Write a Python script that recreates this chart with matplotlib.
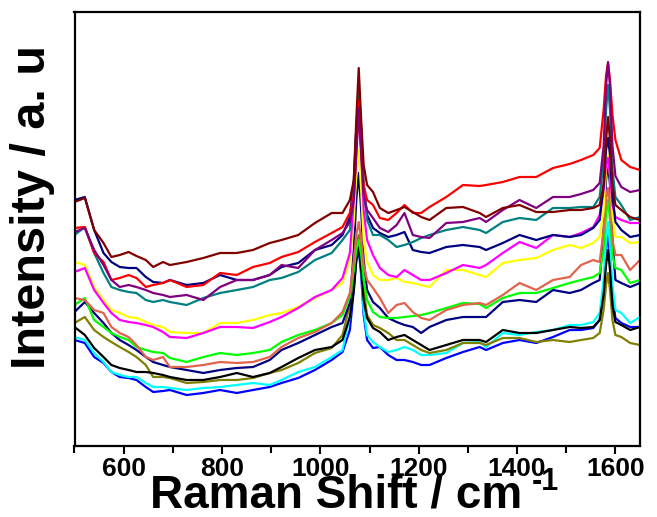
import matplotlib.pyplot as plt
import numpy as np

shift = [500, 521, 540, 559, 575, 592, 610, 626, 645, 660, 680, 694, 728, 762,
         796, 830, 863, 897, 921, 955, 989, 1023, 1045, 1060, 1068, 1073, 1078,
         1083, 1088, 1095, 1107, 1121, 1138, 1155, 1171, 1188, 1205, 1222, 1256,
         1290, 1324, 1337, 1371, 1405, 1439, 1473, 1507, 1530, 1555, 1568, 1576,
         1581, 1585, 1589, 1594, 1600, 1612, 1630, 1650]

# intensities in arbitrary units
maroon = [244, 248, 216, 203, 189, 191, 194, 190, 186, 179, 184, 181, 184, 188,
          193, 193, 196, 203, 206, 211, 223, 233, 233, 246, 266, 326, 378,
          326, 281, 261, 254, 238, 233, 236, 239, 234, 229, 226, 238,
          239, 233, 229, 238, 241, 234, 234, 236, 236, 238, 241, 261,
          306, 329, 306, 261, 241, 236, 229, 226]
red = [218, 219, 193, 184, 166, 168, 171, 168, 159, 161, 163, 166, 159, 161,
       173, 171, 179, 183, 189, 194, 204, 213, 219, 233, 251, 296, 346,
       296, 261, 246, 241, 228, 226, 233, 241, 233, 233, 239, 249,
       261, 260, 261, 264, 269, 269, 278, 282, 286, 291, 298, 336,
       371, 383, 366, 331, 306, 286, 279, 276]
purple = [214, 218, 196, 181, 166, 159, 161, 159, 156, 153, 151, 149, 151, 146,
          159, 166, 166, 171, 181, 178, 196, 206, 213, 224, 246, 291, 338,
          291, 251, 236, 228, 218, 214, 221, 233, 211, 209, 208, 223,
          224, 228, 224, 236, 246, 238, 249, 249, 252, 256, 263, 300,
          360, 384, 360, 300, 270, 259, 254, 256]
teal = [211, 219, 193, 173, 159, 156, 154, 153, 146, 144, 146, 144, 141, 148,
        153, 156, 159, 166, 168, 174, 186, 193, 206, 216, 256, 316, 358,
        316, 261, 226, 211, 211, 206, 199, 201, 204, 208, 211, 216,
        219, 216, 213, 224, 228, 226, 238, 238, 239, 239, 249, 286,
        336, 361, 336, 276, 249, 241, 226, 229]
navy_top = [246, 249, 216, 193, 184, 179, 178, 178, 169, 164, 163, 166, 161, 163,
            171, 166, 166, 171, 179, 183, 196, 201, 211, 229, 266, 316, 351,
            316, 256, 231, 218, 213, 209, 211, 214, 196, 194, 193, 199,
            201, 199, 196, 203, 211, 206, 211, 209, 211, 218, 226, 261,
            296, 308, 291, 251, 224, 216, 209, 211]
yellow = [184, 181, 159, 146, 136, 133, 129, 128, 124, 121, 119, 114, 113, 113,
          123, 123, 126, 131, 133, 139, 148, 156, 163, 186, 226, 271, 296,
          256, 206, 184, 171, 166, 166, 168, 164, 163, 161, 159, 176,
          176, 171, 169, 183, 186, 188, 196, 201, 198, 203, 209, 236,
          276, 291, 271, 231, 209, 209, 203, 204]
magenta = [174, 178, 156, 143, 133, 126, 124, 123, 121, 119, 114, 109, 108, 113,
           119, 119, 118, 124, 129, 138, 149, 156, 168, 193, 246, 296, 331,
           296, 236, 206, 191, 178, 171, 169, 176, 171, 166, 166, 173,
           181, 178, 181, 193, 204, 198, 211, 209, 213, 219, 231, 256,
           281, 288, 271, 241, 229, 226, 223, 223]
coral = [148, 146, 136, 133, 119, 113, 109, 101, 89, 86, 89, 79, 79, 81,
         84, 83, 84, 89, 99, 108, 114, 123, 134, 153, 186, 211, 224,
         206, 181, 166, 158, 148, 133, 141, 143, 134, 128, 126, 136,
         141, 143, 141, 151, 163, 156, 166, 169, 181, 186, 184, 216,
         246, 258, 241, 206, 191, 191, 176, 186]
green = [141, 148, 126, 119, 113, 109, 106, 99, 96, 94, 93, 88, 84, 89,
         93, 91, 93, 96, 104, 111, 116, 123, 131, 149, 176, 196, 206,
         191, 166, 146, 134, 129, 128, 128, 129, 130, 131, 133, 138,
         143, 142, 138, 148, 153, 153, 158, 163, 166, 169, 173, 196,
         231, 246, 226, 191, 178, 176, 163, 166]
navy_bottom = [134, 144, 133, 123, 113, 106, 101, 96, 89, 84, 81, 79, 76, 73,
               76, 78, 79, 86, 96, 103, 111, 119, 123, 143, 196, 246, 273,
               236, 186, 156, 144, 138, 128, 124, 121, 119, 113, 119, 126,
               129, 129, 129, 144, 146, 144, 156, 153, 156, 163, 166, 216,
               266, 283, 261, 206, 166, 163, 159, 163]
black = [119, 111, 98, 89, 81, 78, 76, 74, 74, 73, 71, 69, 66, 66,
         69, 73, 69, 73, 79, 88, 96, 99, 106, 129, 156, 186, 201,
         176, 146, 128, 118, 114, 106, 109, 111, 106, 101, 96, 101,
         106, 106, 104, 116, 113, 113, 116, 119, 118, 119, 126, 151,
         181, 196, 176, 141, 124, 121, 116, 119]
olive = [123, 129, 116, 109, 104, 99, 94, 89, 81, 69, 69, 68, 63, 64,
         66, 66, 68, 73, 76, 83, 93, 98, 111, 141, 176, 201, 211,
         191, 156, 131, 121, 118, 113, 106, 106, 101, 96, 93, 96,
         103, 103, 101, 108, 108, 104, 106, 104, 106, 108, 113, 136,
         161, 173, 156, 126, 111, 109, 103, 101]
cyan = [109, 106, 93, 84, 74, 71, 69, 69, 63, 59, 59, 58, 56, 58,
        59, 61, 63, 61, 66, 74, 79, 89, 96, 129, 171, 196, 206,
        176, 136, 111, 104, 99, 94, 96, 99, 96, 91, 91, 93,
        103, 104, 99, 113, 111, 114, 116, 121, 121, 124, 133, 166,
        206, 224, 201, 161, 136, 133, 123, 129]
blue = [106, 103, 89, 83, 74, 69, 68, 66, 59, 54, 55, 56, 51, 53,
        56, 53, 56, 59, 63, 68, 76, 86, 94, 116, 156, 186, 196,
        171, 131, 106, 98, 99, 91, 86, 86, 84, 81, 81, 88,
        94, 99, 96, 103, 106, 103, 109, 116, 116, 118, 126, 156,
        196, 211, 191, 151, 128, 123, 119, 119]

# drawing order, bottom layer first
spectra = [
    (blue, "#0000FF"),
    (cyan, "#00FFFF"),
    (olive, "#808000"),
    (black, "#000000"),
    (navy_bottom, "#000080"),
    (green, "#00FF00"),
    (coral, "#E2634B"),
    (yellow, "#FFFF00"),
    (magenta, "#FF00FF"),
    (navy_top, "#000080"),
    (teal, "#008080"),
    (red, "#FF0000"),
    (purple, "#800080"),
    (maroon, "#800000"),
]

plt.rcParams["font.family"] = ["Liberation Sans", "DejaVu Sans"]
plt.rcParams["font.weight"] = "bold"

fig = plt.figure(figsize=(6.57, 5.17), dpi=100)
ax = fig.add_axes([74.5 / 657, 1 - 446 / 517, (640 - 74.5) / 657, (446 - 12) / 517])

x = np.array(shift)
for y, c in spectra:
    ax.plot(x, np.array(y), color=c, lw=1.6)

ax.set_xlim(500, 1650)
ax.set_ylim(0, 434)
ax.set_xticks([600, 800, 1000, 1200, 1400, 1600])
ax.set_xticks(np.arange(500, 1651, 100), minor=True)
ax.set_yticks([])
ax.tick_params(axis="x", which="major", direction="out", length=6, width=1.5,
               pad=2, labelsize=19)
ax.tick_params(axis="x", which="minor", direction="out", length=5, width=1.5)
for s in ax.spines.values():
    s.set_linewidth(1.6)

# axis titles as figure text, superscript drawn separately
fig.text(150 / 657, 1 - 508 / 517, "Raman Shift / cm",
         ha="left", va="baseline", fontsize=33, fontweight="bold")
fig.text(532 / 657, 1 - 490 / 517, "-1",
         ha="left", va="baseline", fontsize=22, fontweight="bold")
fig.text(33 / 657, 1 - 207 / 517, "Intensity / a. u", rotation=90,
         ha="center", va="center", fontsize=35, fontweight="bold")

fig.savefig("out.png", dpi=100)
